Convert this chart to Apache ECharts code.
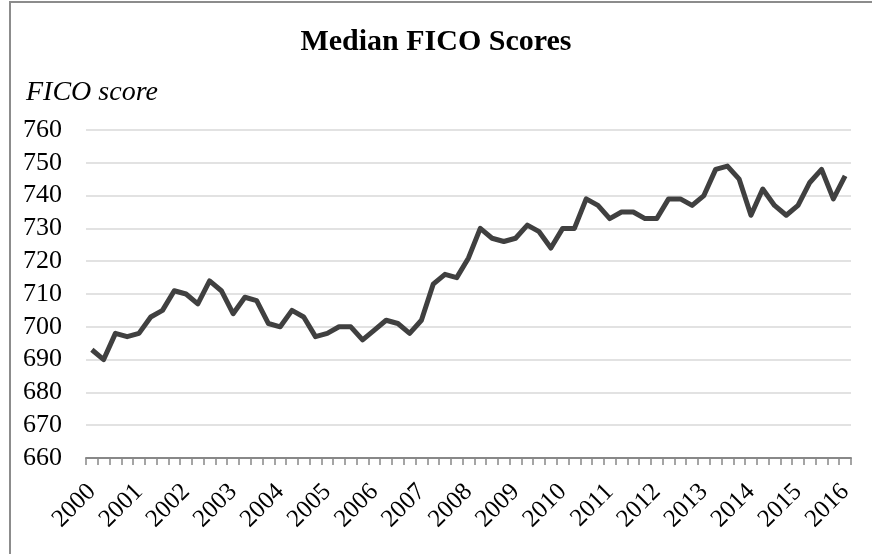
<!DOCTYPE html>
<html style="height: 100%">
<head>
<meta charset="utf-8" />
<title>Median FICO Scores</title>
<script src="https://cdn.jsdelivr.net/npm/echarts@6/dist/echarts.min.js"></script>
</head>
<body style="height: 100%; margin: 0; background: #fff">
<div id="container" style="width: 872px; height: 554px"></div>
<script type="text/javascript">
// quarterly, 2000Q1 .. 2016Q1
const years = [2000, 2001, 2002, 2003, 2004, 2005, 2006, 2007, 2008,
  2009, 2010, 2011, 2012, 2013, 2014, 2015, 2016];

const fico = [
  693, 690, 698, 697, 698, 703, 705, 711, 710, 707, 714, 711, 704, 709, 708, 701,
  700, 705, 703, 697, 698, 700, 700, 696, 699, 702, 701, 698, 702, 713, 716, 715,
  721, 730, 727, 726, 727, 731, 729, 724, 730, 730, 739, 737, 733, 735, 735, 733,
  733, 739, 739, 737, 740, 748, 749, 745, 734, 742, 737, 734, 737, 744, 748, 739,
  746
];

const yTicks = { min: 660, max: 760, step: 10 };

// one category per quarter
let quarters = [];
years.forEach((y) => {
  for (let q = 1; q <= 4; q++) {
    if (quarters.length < fico.length) quarters.push(y + 'Q' + q);
  }
});

const serif = '"Liberation Serif", "Times New Roman", serif';

let chart = echarts.init(document.getElementById('container'));
chart.setOption({
  animation: false,
  title: [
    {
      text: 'Median FICO Scores',
      left: 'center',
      top: 22,
      textStyle: { fontFamily: serif, fontSize: 30, fontWeight: 'bold', color: '#000' }
    },
    {
      text: 'FICO score',
      left: 21,
      top: 74,
      textStyle: { fontFamily: serif, fontSize: 28, fontStyle: 'italic', fontWeight: 'normal', color: '#000' }
    }
  ],
  grid: { left: 86, right: 21, top: 130, bottom: 96 },
  xAxis: {
    type: 'category',
    data: quarters,
    boundaryGap: true,
    axisLine: { lineStyle: { color: '#888', width: 2 } },
    axisTick: { show: true, interval: 0, length: 7, lineStyle: { color: '#888', width: 1.5 } },
    axisLabel: {
      interval: 3,
      rotate: 45,
      margin: 30,
      fontFamily: serif,
      fontSize: 25,
      color: '#000',
      formatter: (v) => v.slice(0, 4)
    },
    splitLine: { show: false }
  },
  yAxis: {
    type: 'value',
    min: yTicks.min,
    max: yTicks.max,
    interval: yTicks.step,
    axisLine: { show: false },
    axisTick: { show: false },
    axisLabel: { fontFamily: serif, fontSize: 26, color: '#000', margin: 24 },
    splitLine: { lineStyle: { color: '#d9d9d9', width: 1.5 } }
  },
  series: [
    {
      type: 'line',
      data: fico,
      showSymbol: false,
      lineStyle: { color: '#404040', width: 5, join: 'round' }
    }
  ],
  graphic: [
    // chart frame: only the top and left edges show in the picture
    { type: 'line', shape: { x1: 9, y1: 2, x2: 872, y2: 2 }, style: { stroke: '#8c8c8c', lineWidth: 2 } },
    { type: 'line', shape: { x1: 10, y1: 2, x2: 10, y2: 554 }, style: { stroke: '#8c8c8c', lineWidth: 2 } }
  ]
}, true);
</script>
</body>
</html>
